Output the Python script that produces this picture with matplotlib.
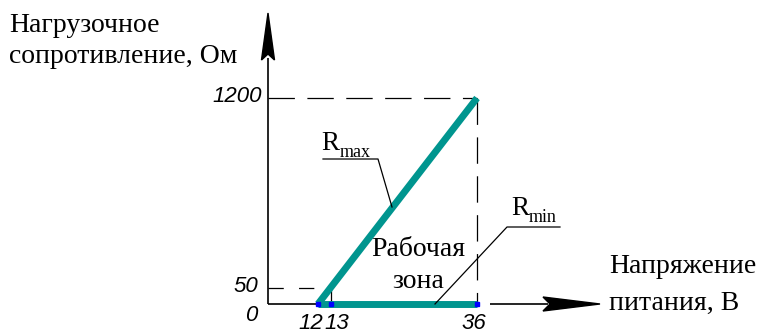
import numpy as np
import matplotlib
matplotlib.use("Agg")
import matplotlib.pyplot as plt
from matplotlib.patches import Polygon
from matplotlib.transforms import Affine2D

plt.rcParams['lines.scale_dashes'] = False

# data (axes are schematic, not to scale)
rmax_voltage = [12, 36]
rmax_load = [0, 1200]
rmin_voltage = [12, 36]
rmin_load = [0, 0]
point_voltage = [12, 13, 36]
point_load = [0, 0, 0]
x_ticks = [12, 13, 36]
y_ticks = [0, 50, 1200]

W, H = 759, 331
TEAL = '#00958f'
SERIF = ['Liberation Serif', 'DejaVu Serif']
NARROW = ['Liberation Sans', 'DejaVu Sans']

# piecewise scales: value -> pixels from the origin
xv = np.array([-100.0, 0, 12, 13, 36, 200])
xp = np.array([-416.7, 0, 50, 63, 209, 1250.4])
yv = np.array([-100.0, 0, 50, 1200, 5000])
yp = np.array([-32.0, 0, 16, 206, 833.8])


def xf(v):
    return np.interp(v, xv, xp)


def xi(p):
    return np.interp(p, xp, xv)


def yf(v):
    return np.interp(v, yv, yp)


def yi(p):
    return np.interp(p, yp, yv)


fig = plt.figure(figsize=(W / 100, H / 100), dpi=100)
ax = fig.add_axes([0, 0, 1, 1])
ax.set_xscale('function', functions=(xf, xi))
ax.set_yscale('function', functions=(yf, yi))
ox, oy = 268, 304  # origin in picture pixels
ax.set_xlim(xi(-ox), xi(W - ox))
ax.set_ylim(yi(-(H - oy)), yi(oy))
ax.axis('off')

pix = Affine2D().scale(1, -1).translate(0, H)  # top-left pixel coords

# axes lines
top = yi(oy - 58)
ax.plot([0, 0], [0, top], color='black', lw=1.2, solid_capstyle='butt')
ax.plot([0, 36], [0, 0], color='black', lw=1.2, solid_capstyle='butt')
ax.plot([38, xi(548 - ox)], [0, 0], color='black', lw=1.2, solid_capstyle='butt')
ax.add_patch(Polygon([(268, 13), (274.5, 60), (268, 54), (261.5, 60)],
                     closed=True, color='black', transform=pix))
ax.add_patch(Polygon([(600, 304), (543, 297), (550, 304), (543, 311)],
                     closed=True, color='black', transform=pix))

# dashed guide lines
dash = dict(color='black', lw=0.9, dashes=(19, 9))
ax.plot([0, 36], [1200, 1200], **dash)
ax.plot([36, 36], [1200, 0], **dash)
ax.plot([0, 13], [50, 50], color='black', lw=0.9, dashes=(11, 11))
ax.plot([13, 13], [50, 0], color='black', lw=0.9)

# R lines
ax.plot(rmax_voltage, rmax_load, color=TEAL, lw=5, solid_capstyle='butt')
ax.plot(rmin_voltage, rmin_load, color=TEAL, lw=5, solid_capstyle='butt')
ax.plot(point_voltage, point_load, 's', color='blue', ms=2.5, lw=0)

# tick labels
tick_font = dict(family=NARROW, style='italic', fontsize=16)
y_offsets = {0: (-11, -11.5), 50: (-10, 1.5), 1200: (-6, 1.5)}
for v in y_ticks:
    ax.annotate(str(v), (0, v), xytext=y_offsets[v], textcoords='offset pixels',
                ha='right', va='center', **tick_font)
x_offsets = {12: (-7, -25), 13: (6, -25), 36: (-3, -25)}
for v in x_ticks:
    ax.annotate(str(v), (v, 0), xytext=x_offsets[v], textcoords='offset pixels',
                ha='center', va='baseline', **tick_font)

# axis titles and labels, one line at a time
serif = dict(transform=pix, family=SERIF, fontsize=20, va='baseline')
ax.text(9, 32, 'Нагрузочное', ha='left', **serif)
ax.text(9, 63, 'сопротивление, Ом', ha='left', **serif)
ax.text(609, 273, 'Напряжение', ha='left', **serif)
ax.text(609, 310, 'питания, В', ha='left', **serif)
ax.text(418, 256, 'Рабочая', ha='center', **serif)
ax.text(418, 288, 'зона', ha='center', **serif)

# leaders
ax.plot([323, 378, 392], [159, 159, 207], color='black', lw=0.9, transform=pix)
ax.text(321, 150, 'R', transform=pix, family=SERIF, fontsize=19.5, ha='left', va='baseline')
ax.text(340, 157, 'max', transform=pix, family=SERIF, fontsize=13, ha='left', va='baseline')
ax.plot([560, 507, 435], [227, 227, 304], color='black', lw=0.9, transform=pix)
ax.text(511, 215, 'R', transform=pix, family=SERIF, fontsize=19.5, ha='left', va='baseline')
ax.text(529, 222, 'min', transform=pix, family=SERIF, fontsize=13, ha='left', va='baseline')

fig.savefig('out.png', dpi=100)
